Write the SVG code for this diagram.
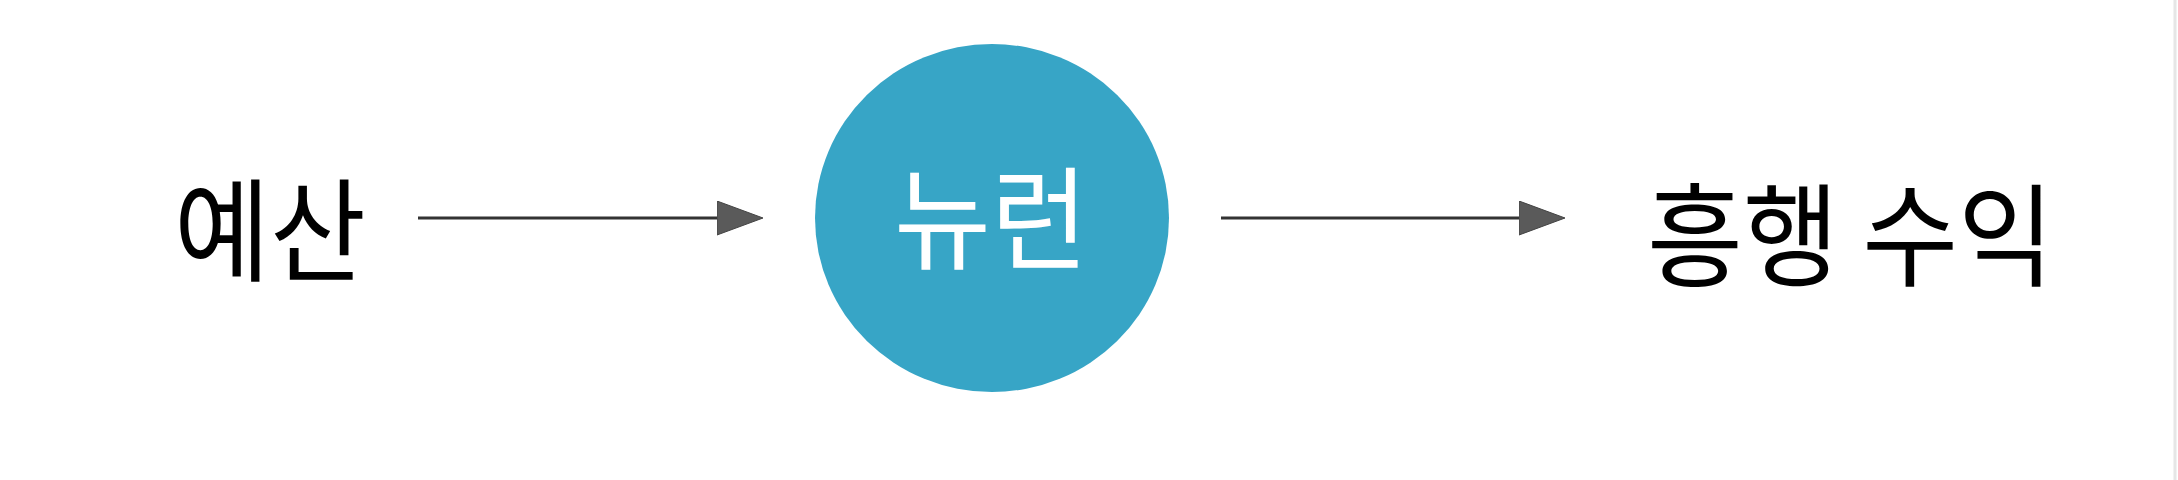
<svg xmlns="http://www.w3.org/2000/svg" width="2178" height="480" viewBox="0 0 2178 480">
  <style>
    .label { font-family: "Noto Sans CJK KR", "Noto Sans", sans-serif; font-size: 112px; fill: #000; }
    .inner { font-family: "Noto Sans CJK KR", "Noto Sans", sans-serif; font-size: 112px; fill: #fff; }
    .edge { stroke: #333; stroke-width: 3.2; fill: none; }
  </style>
  <defs>
    <marker id="arrow" markerUnits="userSpaceOnUse" markerWidth="48" markerHeight="36" refX="0" refY="17" orient="auto">
      <path d="M0,0 L46,17 L0,34 Z" fill="#5a5a5a" stroke="#444" stroke-width="1"/>
    </marker>
  </defs>
  <rect width="2178" height="480" fill="#fff"/>
  <line x1="2175" y1="0" x2="2175" y2="480" stroke="#e6e6e6" stroke-width="3"/>
  <g id="connectors">
    <line class="edge" x1="418" y1="218" x2="717" y2="218" marker-end="url(#arrow)"/>
    <line class="edge" x1="1221" y1="218" x2="1519" y2="218" marker-end="url(#arrow)"/>
  </g>
  <g id="node-budget">
    <text class="label" x="174" y="273" textLength="192" lengthAdjust="spacingAndGlyphs">예산</text>
  </g>
  <g id="node-neuron">
    <ellipse cx="992" cy="218" rx="177" ry="174" fill="#37a5c6"/>
    <text class="inner" x="894" y="261" textLength="194" lengthAdjust="spacingAndGlyphs">뉴런</text>
  </g>
  <g id="node-revenue">
    <text class="label" x="1647" y="278" textLength="407" lengthAdjust="spacingAndGlyphs">흥행 수익</text>
  </g>
</svg>
